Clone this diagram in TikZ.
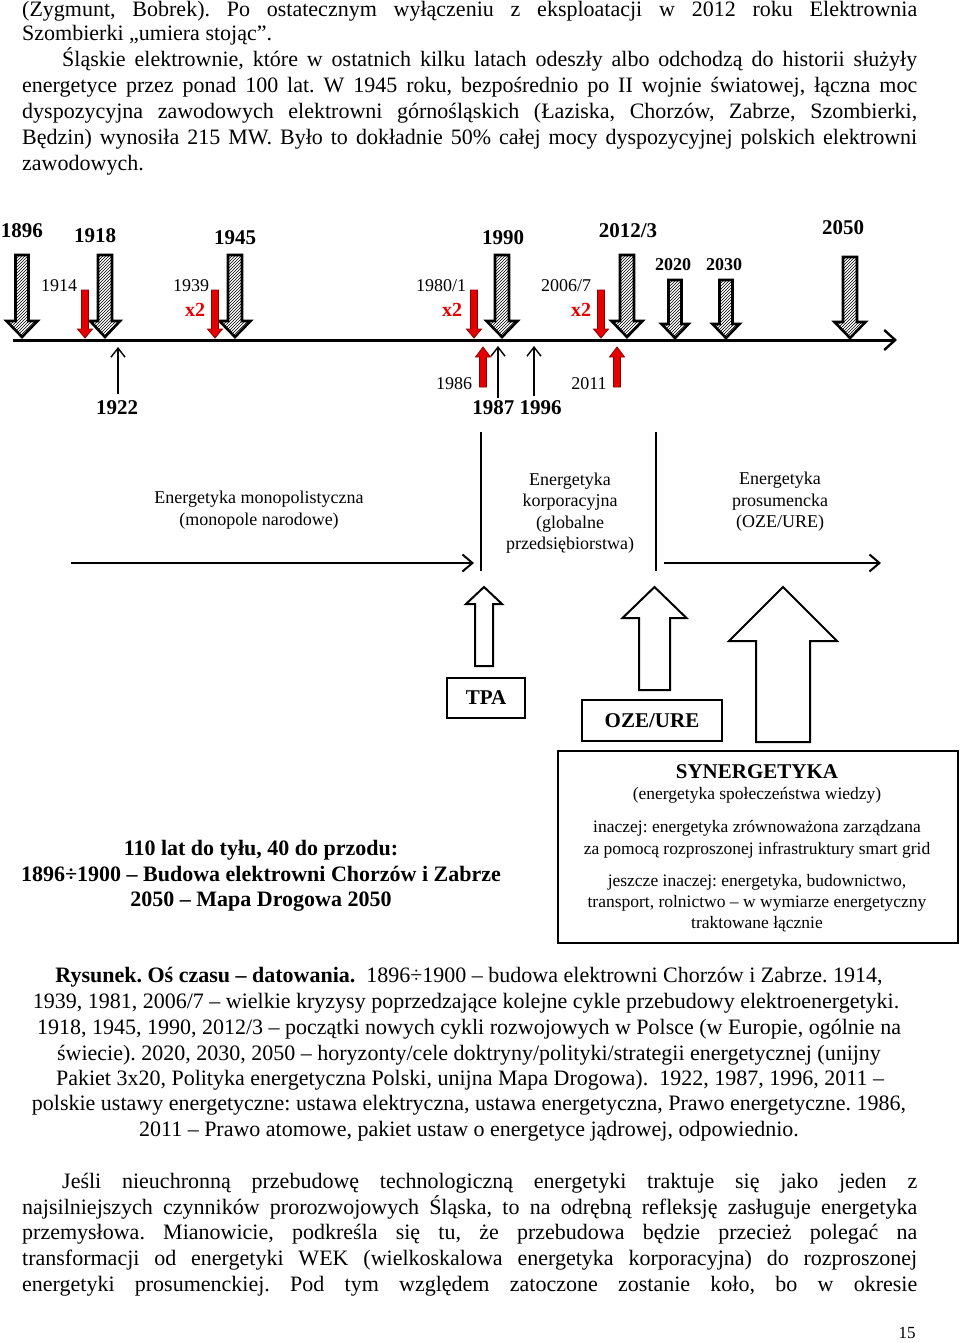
\documentclass[tikz,border=0pt]{standalone}
\usepackage{fontspec}
\setmainfont{Liberation Serif}
\usetikzlibrary{arrows.meta,patterns}
\frenchspacing
\definecolor{arrred}{RGB}{228,0,0}
\definecolor{arrdark}{RGB}{140,0,0}
\newcommand{\bkarrow}[7]{\draw[#1] ({#2-#6},#3) -- ({#2+#6},#3) -- ({#2+#6},#4) -- ({#2+#7},#4) -- (#2,#5) -- ({#2-#7},#4) -- ({#2-#6},#4) -- cycle;}
\newcommand{\jline}[1]{\makebox[895pt][s]{#1}}
\begin{document}
\begin{tikzpicture}[x=1pt,y=-1pt,
  body/.style={font=\fontsize{22}{26}\selectfont, inner sep=0pt, anchor=base west},
  capt/.style={font=\fontsize{22}{26}\selectfont, inner sep=0pt, anchor=base},
  yearbig/.style={font=\fontsize{21}{24}\selectfont\bfseries, inner sep=0pt},
  yearmid/.style={font=\fontsize{18}{20}\selectfont\bfseries, inner sep=0pt},
  yearsmall/.style={font=\fontsize{18}{20}\selectfont, inner sep=0pt},
  xtwo/.style={font=\fontsize{20}{22}\selectfont\bfseries, text=arrred, inner sep=0pt},
  era/.style={font=\fontsize{18}{21.5}\selectfont, align=center, inner sep=0pt},
  synt/.style={font=\fontsize{17.5}{21.5}\selectfont, inner sep=0pt},
  hatched/.style={draw=black, line width=2.6pt, pattern=north east lines, line join=miter},
  redarr/.style={draw=arrdark, line width=0.8pt, fill=arrred},
  blockup/.style={draw=black, line width=2pt, fill=white},
  thinarr/.style={line width=1.4pt, -{Straight Barb[length=9pt,width=14pt,line width=1.4pt]}},
  axis/.style={line width=3pt, -{Straight Barb[length=11pt,width=20pt,line width=2.4pt]}},
  eraarr/.style={line width=2pt, -{Straight Barb[length=10pt,width=17pt,line width=2pt]}},
  frame/.style={draw=black, line width=2pt}
]
\useasboundingbox (0,0) rectangle (960,1343);

% ---------- top paragraph ----------
\node[body] (p1) at (22,17) {\jline{(Zygmunt, Bobrek). Po ostatecznym wyłączeniu z eksploatacji w 2012 roku Elektrownia}};
\node[body] (p2) at (22,41) {Szombierki „umiera stojąc”.};
\node[body] (p3) at (62,67) {\makebox[855pt][s]{Śląskie elektrownie, które w ostatnich kilku latach odeszły albo odchodzą do historii służyły}};
\node[body] (p4) at (22,93) {\jline{energetyce przez ponad 100 lat. W 1945 roku, bezpośrednio po II wojnie światowej, łączna moc}};
\node[body] (p5) at (22,119) {\jline{dyspozycyjna zawodowych elektrowni górnośląskich (Łaziska, Chorzów, Zabrze, Szombierki,}};
\node[body] (p6) at (22,145) {\jline{Będzin) wynosiła 215 MW. Było to dokładnie 50\% całej mocy dyspozycyjnej polskich elektrowni}};
\node[body] (p7) at (22,171) {zawodowych.};

% ---------- time axis ----------
\coordinate (axL) at (13,340);
\coordinate (axR) at (897,340);
\draw[axis] (axL) -- (axR);

% hatched down arrows
\bkarrow{hatched}{22}{255}{321}{337}{6.5}{15.5}
\bkarrow{hatched}{105}{255}{321}{337}{7}{15}
\bkarrow{hatched}{235}{255}{321}{337}{7}{15.5}
\bkarrow{hatched}{502}{255}{321}{337}{7}{15.5}
\bkarrow{hatched}{627}{255}{321}{337}{7}{15.5}
\bkarrow{hatched}{675}{280}{324}{338}{6.5}{13.5}
\bkarrow{hatched}{726}{280}{324}{338}{6.5}{13.5}
\bkarrow{hatched}{850}{257}{322}{338}{7}{15.5}

\node[yearbig] (y1896) at (22,231) {1896};
\node[yearbig] (y1918) at (95,236) {1918};
\node[yearbig] (y1945) at (235,238) {1945};
\node[yearbig] (y1990) at (503,238) {1990};
\node[yearbig] (y2012) at (628,231) {2012/3};
\node[yearmid] (y2020) at (673,265) {2020};
\node[yearmid] (y2030) at (724,265) {2030};
\node[yearbig] (y2050) at (843,228) {2050};

% red crisis arrows (down)
\bkarrow{redarr}{85}{290}{329}{338}{3.5}{7.5}
\bkarrow{redarr}{215}{290}{329}{338}{3.5}{7.5}
\bkarrow{redarr}{474}{290}{329}{338}{3.5}{7.5}
\bkarrow{redarr}{601}{290}{329}{338}{3.5}{7.5}

\node[yearsmall] (y1914) at (59,286) {1914};
\node[yearsmall] (y1939) at (191,286) {1939};
\node[xtwo] (x2a) at (195,310) {x2};
\node[yearsmall] (y1980) at (441,286) {1980/1};
\node[xtwo] (x2b) at (452,310) {x2};
\node[yearsmall] (y2006) at (566,286) {2006/7};
\node[xtwo] (x2c) at (581,310) {x2};

% below-axis law arrows
\coordinate (l1922b) at (118,394);
\coordinate (l1922t) at (118,347);
\draw[thinarr] (l1922b) -- (l1922t);
\coordinate (l1987b) at (498,398);
\coordinate (l1987t) at (498,346);
\draw[thinarr] (l1987b) -- (l1987t);
\coordinate (l1996b) at (534,396);
\coordinate (l1996t) at (534,346);
\draw[thinarr] (l1996b) -- (l1996t);
\bkarrow{redarr}{483}{387}{357}{347}{3.5}{7.5}
\bkarrow{redarr}{617}{387}{357}{347}{3.5}{7.5}

\node[yearbig] (y1922) at (117,408) {1922};
\node[yearsmall] (y1986) at (454,384) {1986};
\node[yearsmall] (y2011) at (589,384) {2011};
\node[yearbig] (y1987) at (517,408) {1987 1996};

% ---------- eras ----------
\coordinate (v1t) at (481,432); \coordinate (v1b) at (481,571);
\coordinate (v2t) at (656,432); \coordinate (v2b) at (656,571);
\draw[line width=1.8pt] (v1t) -- (v1b);
\draw[line width=1.8pt] (v2t) -- (v2b);
\coordinate (e1L) at (71,563); \coordinate (e1R) at (474,563);
\coordinate (e2L) at (664,563); \coordinate (e2R) at (881,563);
\draw[eraarr] (e1L) -- (e1R);
\draw[eraarr] (e2L) -- (e2R);

\node[era] (mono) at (259,510) {Energetyka monopolistyczna\\(monopole narodowe)};
\node[era] (korp) at (570,513) {Energetyka\\korporacyjna\\(globalne\\przedsiębiorstwa)};
\node[era] (pros) at (780,502) {Energetyka\\prosumencka\\(OZE/URE)};

% ---------- block up arrows ----------
\bkarrow{blockup}{484}{666}{604}{587}{9}{18}
\bkarrow{blockup}{654.5}{690}{618}{587}{15.5}{32}
\bkarrow{blockup}{783}{742}{641}{587}{27}{54}

\node[frame, minimum width=78pt, minimum height=40pt, font=\fontsize{21}{24}\selectfont\bfseries] (tpa) at (486,698) {TPA};
\node[frame, minimum width=140pt, minimum height=41pt, font=\fontsize{21}{24}\selectfont\bfseries] (oze) at (652,720.5) {OZE/URE\hspace{12pt}};

% synergetyka box
\node[frame, minimum width=400pt, minimum height=192pt] (syn) at (757.5,846.5) {};
\node[font=\fontsize{21}{24}\selectfont\bfseries, inner sep=0pt] (synt1) at (757,772) {SYNERGETYKA};
\node[synt] (synt2) at (757,795) {(energetyka społeczeństwa wiedzy)};
\node[synt] (synt3) at (757,828) {inaczej: energetyka zrównoważona zarządzana};
\node[synt] (synt4) at (757,850) {za pomocą rozproszonej infrastruktury smart grid};
\node[synt] (synt5) at (757,882) {jeszcze inaczej: energetyka, budownictwo,};
\node[synt] (synt6) at (757,903) {transport, rolnictwo – w wymiarze energetyczny};
\node[synt] (synt7) at (757,924) {traktowane łącznie};

% left bold text
\node[font=\fontsize{22}{25.5}\selectfont\bfseries, align=center, inner sep=0pt] (hist) at (261,876) {110 lat do tyłu, 40 do przodu:\\1896÷1900 – Budowa elektrowni Chorzów i Zabrze\\2050 – Mapa Drogowa 2050};

% ---------- caption ----------
\node[capt] (c1) at (469,982) {\textbf{Rysunek. Oś czasu – datowania.}\ \ 1896÷1900 – budowa elektrowni Chorzów i Zabrze. 1914,};
\node[capt] (c2) at (466,1008) {1939, 1981, 2006/7 – wielkie kryzysy poprzedzające kolejne cykle przebudowy elektroenergetyki.};
\node[capt] (c3) at (469,1034) {1918, 1945, 1990, 2012/3 – początki nowych cykli rozwojowych w Polsce (w Europie, ogólnie na};
\node[capt] (c4) at (469,1060) {świecie). 2020, 2030, 2050 – horyzonty/cele doktryny/polityki/strategii energetycznej (unijny};
\node[capt] (c5) at (470,1085) {Pakiet 3x20, Polityka energetyczna Polski, unijna Mapa Drogowa).\ \ 1922, 1987, 1996, 2011 –};
\node[capt] (c6) at (469,1110) {polskie ustawy energetyczne: ustawa elektryczna, ustawa energetyczna, Prawo energetyczne. 1986,};
\node[capt] (c7) at (469,1136) {2011 – Prawo atomowe, pakiet ustaw o energetyce jądrowej, odpowiednio.};

% ---------- bottom paragraph ----------
\node[body] (b1) at (62,1188) {\makebox[855pt][s]{Jeśli nieuchronną przebudowę technologiczną energetyki traktuje się jako jeden z}};
\node[body] (b2) at (22,1214) {\jline{najsilniejszych czynników prorozwojowych Śląska, to na odrębną refleksję zasługuje energetyka}};
\node[body] (b3) at (22,1239) {\jline{przemysłowa. Mianowicie, podkreśla się tu, że przebudowa będzie przecież polegać na}};
\node[body] (b4) at (22,1265) {\jline{transformacji od energetyki WEK (wielkoskalowa energetyka korporacyjna) do rozproszonej}};
\node[body] (b5) at (22,1291) {\jline{energetyki prosumenckiej. Pod tym względem zatoczone zostanie koło, bo w okresie}};
\node[font=\fontsize{17}{20}\selectfont, inner sep=0pt] (pnum) at (907,1333) {15};
\end{tikzpicture}
\end{document}
